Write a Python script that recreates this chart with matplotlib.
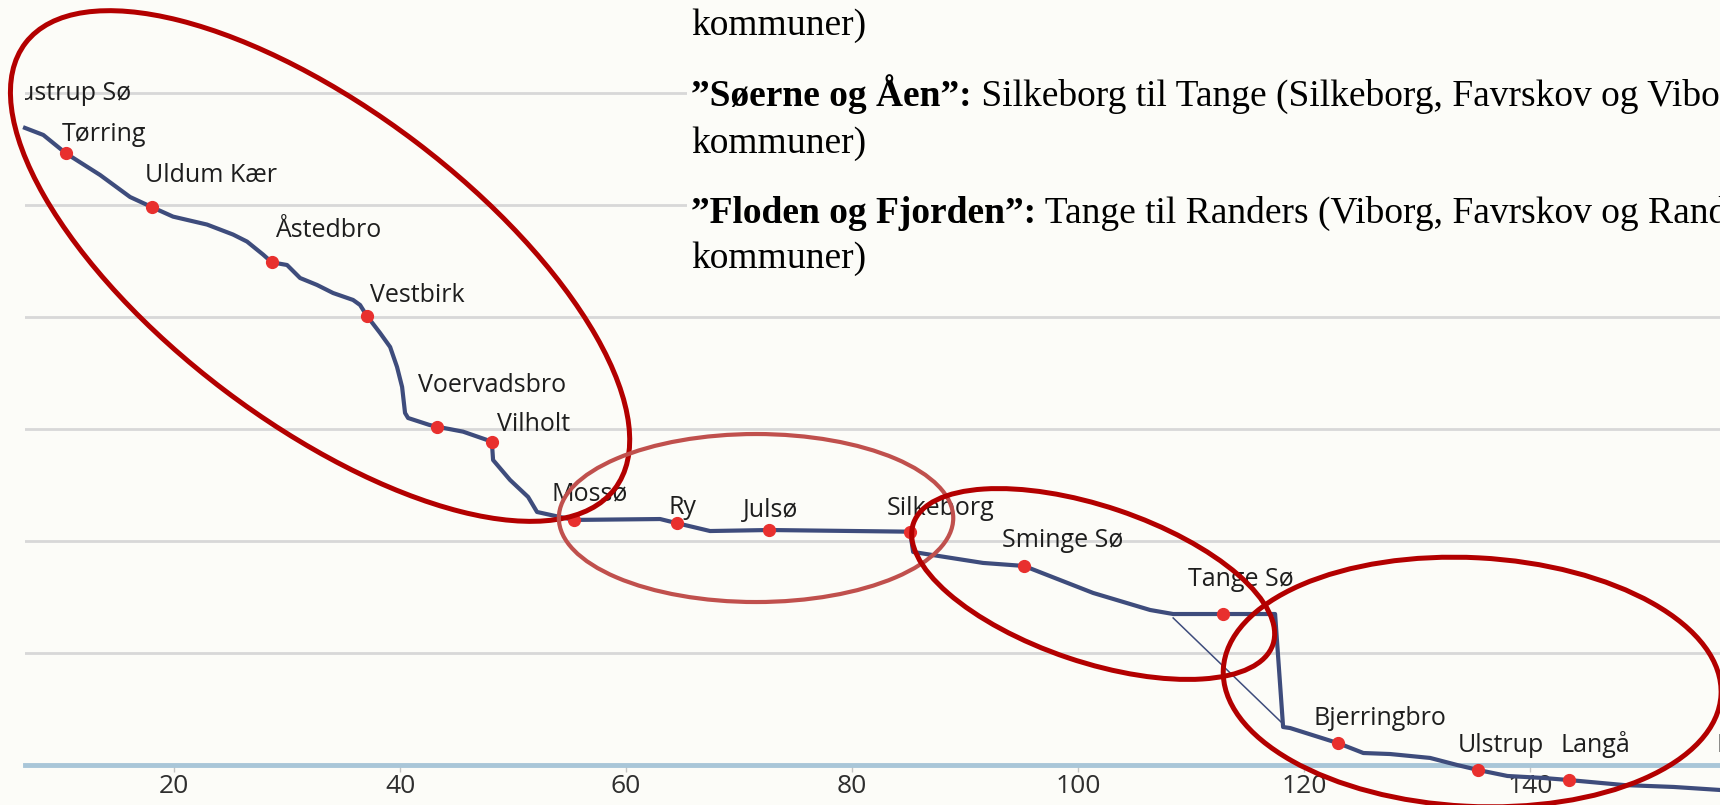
import matplotlib
matplotlib.use("Agg")
import matplotlib.pyplot as plt
from matplotlib.patches import Ellipse, Rectangle

# profil af Gudenåen: afstand fra kilden (km) og kote (m)
strækning_km = [6.81, 8.43, 10.42, 13.45, 16.11, 18.08, 19.91, 22.92, 25.22, 26.46,
                27.88, 28.65, 30.00, 31.15, 32.65, 34.07, 35.84, 36.46, 37.05, 38.23,
                39.12, 39.73, 40.18, 40.44, 40.71, 42.60, 43.25, 45.58, 48.12, 48.23,
                49.73, 51.33, 52.12, 54.16, 55.40, 63.01, 64.54, 65.93, 67.43, 72.68,
                85.13, 85.40, 91.59, 95.22, 101.33, 106.37, 108.41, 112.86, 117.43, 118.14,
                118.76, 123.04, 125.24, 127.61, 131.15, 133.54, 135.42, 137.99, 141.19, 143.40,
                148.30, 152.70, 156.80]
kote_m = [56.88, 56.25, 54.62, 52.68, 50.71, 49.79, 48.96, 48.25, 47.36, 46.73,
          45.57, 44.88, 44.64, 43.48, 42.86, 42.14, 41.52, 41.07, 40.12, 38.57,
          37.32, 35.54, 33.75, 31.43, 30.98, 30.36, 30.21, 29.76, 28.87, 27.23,
          25.45, 23.93, 22.59, 22.14, 21.88, 21.96, 21.58, 21.25, 20.89, 20.98,
          20.83, 19.02, 18.04, 17.77, 15.36, 13.84, 13.48, 13.48, 13.48, 3.39,
          3.30, 1.94, 1.07, 0.98, 0.63, 0.00, -0.45, -0.98, -1.16, -1.34,
          -1.79, -1.96, -2.23]

# det gamle åløb under Tange Sø
gammelt_km = [108.41, 118.05]
gammelt_m = [13.13, 3.75]

# stednavne med røde prikker
steder = ["Tørring", "Uldum Kær", "Åstedbro", "Vestbirk", "Voervadsbro", "Vilholt",
          "Mossø", "Ry", "Julsø", "Silkeborg", "Sminge Sø", "Tange Sø",
          "Bjerringbro", "Ulstrup", "Langå"]
sted_km = [10.42, 18.08, 28.65, 37.05, 43.25, 48.12, 55.40, 64.54, 72.68, 85.13,
           95.22, 112.86, 123.04, 135.42, 143.40]
sted_m = [54.62, 49.79, 44.88, 40.12, 30.21, 28.87, 21.88, 21.58, 20.98, 20.83,
          17.77, 13.48, 1.94, -0.45, -1.34]

# navneskilte (venstre kant, grundlinje)
skilt_tekst = ["ustrup Sø"] + steder + ["Randers"]
skilt_km = [6.28, 10.06, 17.43, 28.94, 37.35, 41.59, 48.56, 53.42, 63.74, 70.38,
            83.07, 93.25, 109.76, 120.80, 133.63, 142.65, 156.46]
skilt_m = [59.38, 55.71, 52.08, 47.17, 41.37, 33.33, 29.85, 23.66, 22.41, 22.17,
           22.32, 19.44, 15.98, 3.57, 1.19, 1.19, 1.19]

xtick = [20, 40, 60, 80, 100, 120, 140]
ytick = [10, 20, 30, 40, 50, 60]

# røde ringe om de tre etaper (centrum km, m, bredde, højde, vinkel, farve, tykkelse)
ringe = [
    (32.92, 44.55, 65.6, 27.9, -37.4, "#b30000", 3.6),
    (71.50, 22.05, 34.9, 15.0, 0.0, "#c0504d", 3.0),
    (101.33, 16.16, 33.6, 13.9, -18.8, "#b30000", 3.6),
    (134.87, 7.41, 44.1, 22.2, -3.0, "#b30000", 3.6),
]

# tekst fra slidet
linjer = [
    ("", "kommuner)"),
    ("\u201dSøerne og Åen\u201d:", " Silkeborg til Tange (Silkeborg, Favrskov og Viborg"),
    ("", "kommuner)"),
    ("\u201dFloden og Fjorden\u201d:", " Tange til Randers (Viborg, Favrskov og Randers"),
    ("", "kommuner)"),
]
linje_y = [35, 106, 153, 223, 268]

W, H = 1720, 805
bg = "#fcfcf8"
sans = ["Open Sans", "DejaVu Sans"]

fig = plt.figure(figsize=(W / 100, H / 100), dpi=100, facecolor=bg)
ax = fig.add_axes([25 / W, 40 / H, 1 - 25 / W, 1 - 40 / H])
ax.set_facecolor(bg)
ax.set_xlim(6.81, 156.8)
ax.set_ylim(0, 68.3)

ax.set_yticks(ytick)
ax.set_yticklabels([])
ax.grid(axis="y", color="#d8d8d8", lw=2)
ax.tick_params(axis="y", length=0)
ax.set_xticks(xtick)
ax.set_xticklabels([str(t) for t in xtick], fontsize=19, color="#2e2e2e", family=sans)
ax.tick_params(axis="x", length=5, width=1, color="#c4c4c4", pad=1.5)
for s in ["left", "right", "top"]:
    ax.spines[s].set_visible(False)
ax.spines["bottom"].set_color("#a9c6d8")
ax.spines["bottom"].set_linewidth(3.5)

ax.plot(strækning_km, kote_m, color="#3e4c7c", lw=3, zorder=4, clip_on=False,
        solid_joinstyle="round")
ax.plot(gammelt_km, gammelt_m, color="#3e4c7c", lw=1.1, zorder=4, clip_on=False)
ax.plot(sted_km, sted_m, "o", color="#e8302e", ms=8.5, zorder=5, clip_on=False)

for t, x, y in zip(skilt_tekst, skilt_km, skilt_m):
    ax.text(x, y, t, fontsize=18, color="#1e1e1e", family=sans, va="baseline",
            ha="left", zorder=6, clip_on=(t == "ustrup Sø"))

for cx, cy, w, h, a, c, lw in ringe:
    ax.add_patch(Ellipse((cx, cy), w, h, angle=a, fill=False, ec=c, lw=lw,
                         zorder=8, clip_on=False))

# tekstboksen dækker gitterlinjerne
fig.add_artist(Rectangle((687 / W, 1 - 290 / H), 1, 290 / H, transform=fig.transFigure,
                         fc=bg, ec="none", zorder=1))

fig.canvas.draw()
r = fig.canvas.get_renderer()
for (fed, normal), y in zip(linjer, linje_y):
    x = 691 / W
    if fed:
        t = fig.text(x, 1 - y / H, fed, fontsize=27, weight="bold",
                     family="Liberation Serif", va="baseline", zorder=3)
        x = fig.transFigure.inverted().transform((t.get_window_extent(r).x1, 0))[0]
    fig.text(x, 1 - y / H, normal, fontsize=27, family="Liberation Serif",
             va="baseline", zorder=3)

fig.savefig("out.png", dpi=100, facecolor=bg)
